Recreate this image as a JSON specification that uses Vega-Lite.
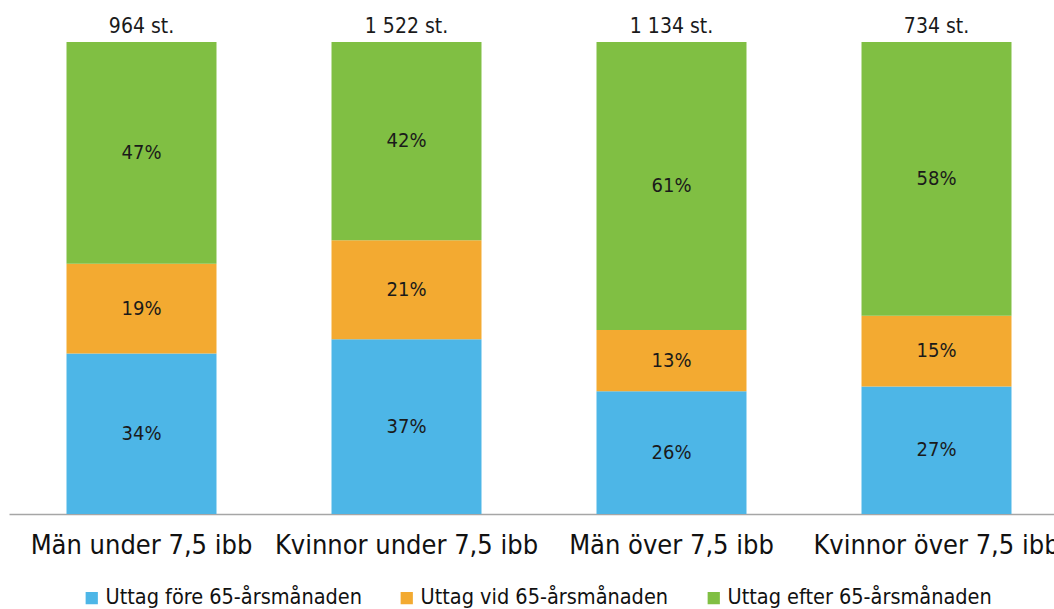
{
  "$schema": "https://vega.github.io/schema/vega-lite/v6.json",
  "width": 1045,
  "height": 472,
  "autosize": {"type": "none"},
  "padding": {"left": 9, "top": 42, "right": 0, "bottom": 95},
  "background": "white",
  "config": {
    "font": "DejaVu Sans Condensed, Lato, sans-serif",
    "view": {"stroke": null}
  },
  "data": {
    "values": [
      {"grupp": "Män under 7,5 ibb", "kat": "Uttag före 65-årsmånaden", "ord": 1, "andel": 34, "antal": "964 st."},
      {"grupp": "Män under 7,5 ibb", "kat": "Uttag vid 65-årsmånaden", "ord": 2, "andel": 19, "antal": "964 st."},
      {"grupp": "Män under 7,5 ibb", "kat": "Uttag efter 65-årsmånaden", "ord": 3, "andel": 47, "antal": "964 st."},
      {"grupp": "Kvinnor under 7,5 ibb", "kat": "Uttag före 65-årsmånaden", "ord": 1, "andel": 37, "antal": "1 522 st."},
      {"grupp": "Kvinnor under 7,5 ibb", "kat": "Uttag vid 65-årsmånaden", "ord": 2, "andel": 21, "antal": "1 522 st."},
      {"grupp": "Kvinnor under 7,5 ibb", "kat": "Uttag efter 65-årsmånaden", "ord": 3, "andel": 42, "antal": "1 522 st."},
      {"grupp": "Män över 7,5 ibb", "kat": "Uttag före 65-årsmånaden", "ord": 1, "andel": 26, "antal": "1 134 st."},
      {"grupp": "Män över 7,5 ibb", "kat": "Uttag vid 65-årsmånaden", "ord": 2, "andel": 13, "antal": "1 134 st."},
      {"grupp": "Män över 7,5 ibb", "kat": "Uttag efter 65-årsmånaden", "ord": 3, "andel": 61, "antal": "1 134 st."},
      {"grupp": "Kvinnor över 7,5 ibb", "kat": "Uttag före 65-årsmånaden", "ord": 1, "andel": 27, "antal": "734 st."},
      {"grupp": "Kvinnor över 7,5 ibb", "kat": "Uttag vid 65-årsmånaden", "ord": 2, "andel": 15, "antal": "734 st."},
      {"grupp": "Kvinnor över 7,5 ibb", "kat": "Uttag efter 65-årsmånaden", "ord": 3, "andel": 58, "antal": "734 st."}
    ]
  },
  "transform": [
    {"stack": "andel", "groupby": ["grupp"], "sort": [{"field": "ord"}], "as": ["y0", "y1"]},
    {"calculate": "(datum.y0 + datum.y1) / 2", "as": "ymid"},
    {"calculate": "datum.andel + '%'", "as": "etikett"}
  ],
  "encoding": {
    "x": {
      "field": "grupp", "type": "nominal", "sort": null,
      "scale": {"paddingInner": 0.434, "paddingOuter": 0.1887, "align": 0.575},
      "axis": {
        "title": null, "labelAngle": 0, "ticks": false,
        "domainColor": "#a6a6a6", "domainWidth": 1.5,
        "labelFontSize": 27, "labelColor": "#111", "labelPadding": 18,
        "labelLimit": 400, "labelOverlap": false
      }
    }
  },
  "layer": [
    {
      "mark": {"type": "bar"},
      "encoding": {
        "y": {"field": "y0", "type": "quantitative", "scale": {"domain": [0, 100]}, "axis": null},
        "y2": {"field": "y1"},
        "color": {
          "field": "kat", "type": "nominal",
          "sort": ["Uttag före 65-årsmånaden", "Uttag vid 65-årsmånaden", "Uttag efter 65-årsmånaden"],
          "scale": {
            "domain": ["Uttag före 65-årsmånaden", "Uttag vid 65-årsmånaden", "Uttag efter 65-årsmånaden"],
            "range": ["#4db6e7", "#f3aa31", "#80bf43"]
          },
          "legend": {
            "title": null, "orient": "none", "direction": "horizontal",
            "legendX": 72, "legendY": 545,
            "symbolType": "square", "symbolSize": 150, "symbolStrokeWidth": 0,
            "labelFontSize": 21.5, "labelColor": "#111", "labelOffset": 3,
            "columnPadding": 34, "labelLimit": 400
          }
        }
      }
    },
    {
      "mark": {"type": "text", "fontSize": 20, "color": "#1a1a1a", "baseline": "middle"},
      "encoding": {
        "y": {"field": "ymid", "type": "quantitative"},
        "text": {"field": "etikett"},
        "detail": {"field": "kat"}
      }
    },
    {
      "transform": [{"filter": "datum.ord == 3"}],
      "mark": {"type": "text", "fontSize": 21, "color": "#1a1a1a", "baseline": "alphabetic", "dy": -9},
      "encoding": {
        "y": {"field": "y1", "type": "quantitative"},
        "text": {"field": "antal"}
      }
    }
  ]
}
